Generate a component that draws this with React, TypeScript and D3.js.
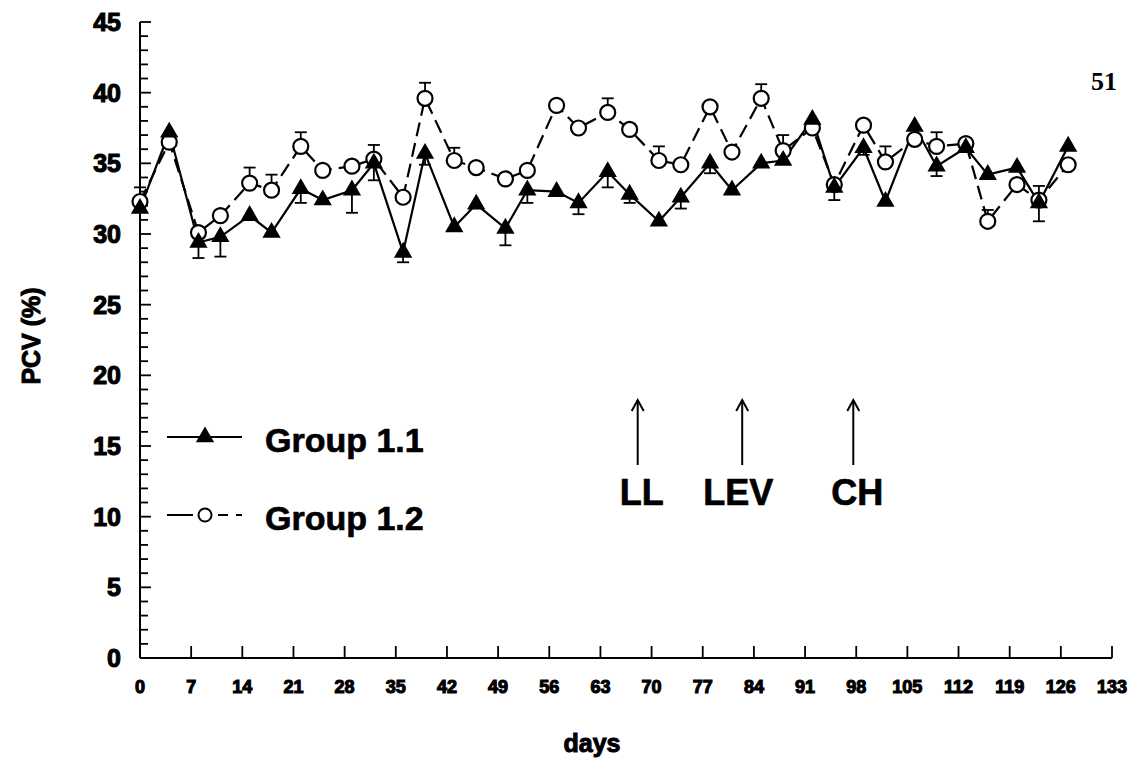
import * as d3 from "d3";
import React, { useEffect, useRef } from "react";

// sampling days (twice a week)
const days = [0, 4, 8, 11, 15, 18, 22, 25, 29, 32, 36, 39, 43, 46, 50, 53, 57, 60, 64, 67, 71, 74, 78, 81, 85, 88, 92, 95, 99, 102, 106, 109, 113, 116, 120, 123, 127];

// Group 1.1 (filled triangles, solid line)
const group11 = [31.8, 37.2, 29.4, 29.8, 31.3, 30.1, 33.2, 32.4, 33.1, 35.0, 28.7, 35.7, 30.5, 32.1, 30.4, 33.1, 33.0, 32.2, 34.4, 32.8, 30.9, 32.6, 35.0, 33.1, 35.0, 35.2, 38.1, 33.3, 36.1, 32.3, 37.6, 34.8, 36.1, 34.2, 34.7, 32.2, 36.2];
// lower error (SE) for group 1.1, 0 = not drawn
const group11Err = [0, 0, 1.1, 1.4, 0, 0, 1.0, 0, 1.6, 1.2, 0.7, 0.8, 0, 0, 1.2, 0.9, 0, 0.8, 1.1, 0.6, 0, 0.8, 0.7, 0, 0, 0, 0, 0.9, 0.5, 0, 0, 0.7, 0, 0, 0, 1.3, 0];

// Group 1.2 (open circles, dashed line)
const group12 = [32.3, 36.5, 30.1, 31.3, 33.6, 33.1, 36.2, 34.5, 34.8, 35.3, 32.6, 39.6, 35.2, 34.7, 33.9, 34.5, 39.1, 37.5, 38.6, 37.4, 35.2, 34.9, 39.0, 35.8, 39.6, 35.9, 37.5, 33.5, 37.7, 35.1, 36.7, 36.2, 36.4, 30.9, 33.5, 32.4, 34.9];
// upper error (SE) for group 1.2
const group12Err = [1.0, 0, 0, 0, 1.1, 1.1, 1.0, 0, 0, 1.0, 0, 1.1, 0.9, 0, 0, 0, 0, 0, 1.0, 0, 1.0, 0, 0, 0, 1.0, 1.1, 0, 0, 0, 1.1, 0, 1.0, 0, 0.8, 0, 1.0, 0];

const xTicks = [0, 7, 14, 21, 28, 35, 42, 49, 56, 63, 70, 77, 84, 91, 98, 105, 112, 119, 126, 133];
const yTicks = [0, 5, 10, 15, 20, 25, 30, 35, 40, 45];

const treatments = [
  { label: "LL", day: 68.1 },
  { label: "LEV", day: 82.4 },
  { label: "CH", day: 97.6 },
];

const font = "'Liberation Sans', Arial, Helvetica, sans-serif";

function PcvChart() {
  const ref = useRef<SVGSVGElement>(null);

  function drawChart() {
    const svg = d3.select(ref.current);
    svg.selectAll("*").remove();

    const x = d3.scaleLinear().domain([0, 133]).range([140, 1112]);
    const y = d3.scaleLinear().domain([0, 45]).range([658, 22]);

    const heavy = (sel: any, size: number, sw = 1) =>
      sel
        .attr("font-family", font)
        .attr("font-weight", "bold")
        .attr("font-size", size)
        .attr("fill", "#000")
        .attr("stroke", "#000")
        .attr("stroke-width", sw);

    // axes
    const axes = svg.append("g").attr("stroke", "#000").attr("stroke-width", 2);
    axes.append("line").attr("x1", x(0)).attr("x2", x(0)).attr("y1", y(45)).attr("y2", y(0));
    axes.append("line").attr("x1", x(0)).attr("x2", x(133)).attr("y1", y(0)).attr("y2", y(0));

    // y ticks: every 1 unit, labelled every 5
    d3.range(0, 46).forEach((v) => {
      const major = v % 5 === 0;
      axes
        .append("line")
        .attr("stroke-width", 1.8)
        .attr("x1", x(0))
        .attr("x2", x(0) + (major ? 11 : 8))
        .attr("y1", y(v))
        .attr("y2", y(v));
    });
    yTicks.forEach((v) => {
      heavy(svg.append("text"), 25, 1.1)
        .attr("x", 121)
        .attr("y", y(v))
        .attr("dy", "0.36em")
        .attr("text-anchor", "end")
        .text(v);
    });

    // x ticks
    xTicks.forEach((d) => {
      if (d > 0)
        axes
          .append("line")
          .attr("stroke-width", 1.8)
          .attr("x1", x(d))
          .attr("x2", x(d))
          .attr("y1", y(0))
          .attr("y2", y(0) - 12);
      heavy(svg.append("text"), 18, 1.1)
        .attr("x", x(d))
        .attr("y", 693)
        .attr("text-anchor", "middle")
        .text(d);
    });

    // axis titles
    heavy(svg.append("text"), 25, 1)
      .attr("x", 592)
      .attr("y", 752)
      .attr("text-anchor", "middle")
      .text("days");
    heavy(svg.append("text"), 25, 1)
      .attr("transform", "translate(40,336) rotate(-90)")
      .attr("text-anchor", "middle")
      .text("PCV (%)");

    // page number
    svg
      .append("text")
      .attr("x", 1104)
      .attr("y", 90)
      .attr("text-anchor", "middle")
      .attr("font-family", "'Liberation Serif', 'Times New Roman', serif")
      .attr("font-weight", "bold")
      .attr("font-size", 26)
      .text("51");

    const pts11 = days.map((d, i) => ({ d, v: group11[i], e: group11Err[i] }));
    const pts12 = days.map((d, i) => ({ d, v: group12[i], e: group12Err[i] }));

    // error bars
    const err = svg.append("g").attr("stroke", "#000").attr("stroke-width", 1.8);
    pts11.filter((p) => p.e > 0).forEach((p) => {
      err.append("line").attr("x1", x(p.d)).attr("x2", x(p.d)).attr("y1", y(p.v)).attr("y2", y(p.v - p.e));
      err.append("line").attr("x1", x(p.d) - 6).attr("x2", x(p.d) + 6).attr("y1", y(p.v - p.e)).attr("y2", y(p.v - p.e));
    });
    pts12.filter((p) => p.e > 0).forEach((p) => {
      err.append("line").attr("x1", x(p.d)).attr("x2", x(p.d)).attr("y1", y(p.v)).attr("y2", y(p.v + p.e));
      err.append("line").attr("x1", x(p.d) - 6).attr("x2", x(p.d) + 6).attr("y1", y(p.v + p.e)).attr("y2", y(p.v + p.e));
    });

    const line = d3
      .line<{ d: number; v: number }>()
      .x((p) => x(p.d))
      .y((p) => y(p.v));

    svg
      .append("path")
      .attr("d", line(pts11))
      .attr("fill", "none")
      .attr("stroke", "#000")
      .attr("stroke-width", 2.2);
    svg
      .append("path")
      .attr("d", line(pts12))
      .attr("fill", "none")
      .attr("stroke", "#000")
      .attr("stroke-width", 2.2)
      .attr("stroke-dasharray", "14,7");

    // open circles
    svg
      .append("g")
      .selectAll("circle")
      .data(pts12)
      .enter()
      .append("circle")
      .attr("cx", (p) => x(p.d))
      .attr("cy", (p) => y(p.v))
      .attr("r", 7.5)
      .attr("fill", "#fff")
      .attr("stroke", "#000")
      .attr("stroke-width", 2.2);

    // filled triangles
    const tri = d3.symbol().type(d3.symbolTriangle).size(145);
    svg
      .append("g")
      .selectAll("path")
      .data(pts11)
      .enter()
      .append("path")
      .attr("d", tri)
      .attr("transform", (p) => `translate(${x(p.d)},${y(p.v)})`)
      .attr("fill", "#000");

    // legend
    const lg = svg.append("g");
    lg.append("line").attr("x1", 167).attr("x2", 242).attr("y1", 437).attr("y2", 437).attr("stroke", "#000").attr("stroke-width", 2);
    lg.append("path").attr("d", tri).attr("transform", "translate(205,437)").attr("fill", "#000");
    heavy(lg.append("text"), 34, 0.7).attr("x", 265).attr("y", 452).text("Group 1.1");

    lg.append("line")
      .attr("x1", 167)
      .attr("x2", 242)
      .attr("y1", 515)
      .attr("y2", 515)
      .attr("stroke", "#000")
      .attr("stroke-width", 2)
      .attr("stroke-dasharray", "26,25,10,8,6");
    lg.append("circle").attr("cx", 205).attr("cy", 515).attr("r", 6.5).attr("fill", "#fff").attr("stroke", "#000").attr("stroke-width", 2);
    heavy(lg.append("text"), 34, 0.7).attr("x", 265).attr("y", 530).text("Group 1.2");

    // treatment arrows
    treatments.forEach((t) => {
      const ax = x(t.day);
      const g = svg.append("g").attr("stroke", "#000").attr("stroke-width", 2).attr("fill", "none");
      g.append("line").attr("x1", ax).attr("x2", ax).attr("y1", 400).attr("y2", 465);
      g.append("path").attr("d", `M${ax - 6},${411} L${ax},${400} L${ax + 6},${411}`);
      heavy(svg.append("text"), 36, 0.7)
        .attr("x", ax + (t.label === "LEV" ? -4 : 4))
        .attr("y", 505)
        .attr("text-anchor", "middle")
        .text(t.label);
    });
  }

  useEffect(() => {
    drawChart();
  }, []);

  return (
    <svg
      ref={ref}
      width={1139}
      height={759}
      style={{ position: "absolute", left: 0, top: 0, background: "#fff" }}
    />
  );
}

export default function App() {
  return <PcvChart />;
}
